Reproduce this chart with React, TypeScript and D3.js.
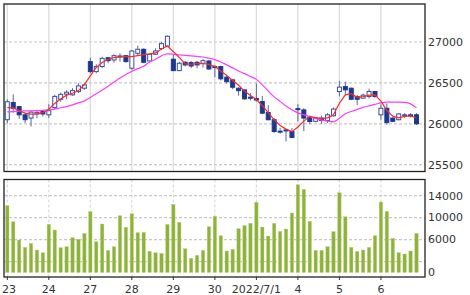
import React from "react";
import * as d3 from "d3";

const dayLabels = ["23", "24", "27", "28", "29", "30", "2022/7/1", "4", "5", "6"];
const barsPerDay = 7;

const openV = [26050,26260,26210,26110,26070,26120,26150,26110,26200,26300,26362,26354,26394,26435,26760,26638,26700,26808,26780,26820,26833,26680,26862,26911,26768,26850,26920,26950,26790,26650,26752,26748,26752,26740,26768,26700,26700,26570,26537,26435,26415,26325,26310,26272,26138,26050,25910,25925,25906,26185,26170,26082,26030,26070,26040,26098,26395,26455,26435,26333,26313,26333,26395,26110,26190,26070,26050,26100,26110,26110];
const highV = [26300,26360,26220,26130,26160,26170,26170,26240,26355,26380,26410,26435,26496,26496,26808,26728,26820,26820,26850,26862,26841,26902,26955,26923,26862,26923,27000,27080,26845,26760,26768,26768,26768,26790,26780,26720,26710,26600,26550,26445,26415,26375,26496,26340,26228,26070,25950,25930,25947,26240,26190,26100,26080,26100,26130,26200,26525,26515,26445,26350,26370,26430,26400,26240,26250,26080,26130,26130,26130,26130];
const lowV = [26010,26135,26060,26010,25967,26070,26090,26070,26180,26270,26300,26341,26374,26415,26618,26618,26680,26740,26748,26760,26748,26658,26841,26740,26760,26841,26900,26950,26645,26645,26700,26680,26680,26687,26660,26570,26530,26490,26423,26345,26295,26285,26272,26118,26040,25887,25880,25785,25825,26028,25910,26000,26020,26000,26010,26090,26335,26350,26290,26230,26310,26310,26320,26050,25990,26020,26040,26070,26080,25985];
const closeV = [26270,26190,26110,26050,26143,26140,26120,26160,26335,26360,26386,26406,26463,26476,26638,26700,26800,26772,26833,26830,26760,26890,26911,26752,26850,26890,26980,27070,26650,26740,26720,26707,26720,26772,26670,26690,26550,26515,26447,26405,26305,26320,26290,26130,26050,25906,25905,25920,25833,26180,26070,26028,26068,26040,26110,26180,26448,26415,26300,26300,26350,26395,26333,26190,26015,26030,26120,26110,26100,26000];
const volumeV = [12180,9260,5920,4590,5320,4100,3610,8780,7750,4530,4710,6350,6050,7140,11080,5620,8840,4040,4710,10350,8240,10720,7260,7320,3860,3610,3490,8780,12430,9150,4340,2590,3130,4040,8350,10240,6710,3920,4230,7980,8530,8970,12800,8290,6650,8970,7510,7930,10850,16000,15160,9330,4040,4040,4710,7440,14550,10170,4590,3860,4100,4590,6710,12850,11150,6230,3610,3370,3920,7140];
const maShort = [26198,26194,26159,26130,26118,26122,26138,26179,26249,26302,26350,26373,26406,26478,26585,26688,26749,26789,26810,26818,26821,26821,26833,26846,26854,26866,26915,26951,26882,26811,26732,26728,26735,26737,26726,26700,26646,26590,26530,26471,26400,26345,26296,26222,26137,26049,25978,25935,25904,25961,26033,26089,26076,26063,26073,26110,26251,26354,26368,26324,26332,26350,26354,26278,26163,26093,26073,26090,26096,26071];
const maLong = [26146,26150,26155,26159,26159,26161,26165,26170,26180,26196,26210,26232,26255,26280,26322,26366,26412,26460,26510,26560,26602,26643,26674,26704,26756,26790,26830,26856,26851,26843,26837,26830,26824,26817,26801,26785,26756,26720,26684,26646,26613,26578,26543,26476,26401,26329,26274,26218,26171,26133,26110,26088,26063,26045,26034,26024,26067,26122,26151,26177,26201,26220,26237,26256,26265,26265,26265,26261,26244,26195];
const priceTicks = [25500, 26000, 26500, 27000];
const volGrid = [2000, 6000, 10000, 14000];
const volLabels = [0, 6000, 10000, 14000];

const W = 470, H = 295;
const L = 4, R = 425;
const mTop = 4, mBot = 171.5;
const vTop = 179.5, vBot = 277;

export default function App() {
  const n = openV.length;
  const x = d3.scaleLinear().domain([0, n - 1]).range([7.3, 416.5]);
  const y = d3.scaleLinear().domain([25500, 27000]).range([164.7, 42]);
  const yv = d3.scaleLinear().domain([0, 14000]).range([272.5, 195.7]);
  const idx = d3.range(n);
  const lineS = d3.line<number>().x((i) => x(i)).y((i) => y(maShort[i]));
  const lineL = d3.line<number>().x((i) => x(i)).y((i) => y(maLong[i])).curve(d3.curveMonotoneX);
  const tickIdx = dayLabels.map((_, d) => d * barsPerDay);
  const font = "'DejaVu Sans', Verdana, sans-serif";
  const cw = 4;
  return (
    <svg width={W} height={H} style={{ position: "absolute", left: 0, top: 0, background: "#fff" }}>
      <rect x={0} y={0} width={W} height={H} fill="#fff" />
      {/* vertical grid */}
      {tickIdx.map((i) => (
        <g key={"vg" + i}>
          <line x1={x(i)} x2={x(i)} y1={mTop} y2={mBot} stroke="#dcdcdc" strokeWidth={1.3} />
          <line x1={x(i)} x2={x(i)} y1={vTop} y2={vBot} stroke="#d8d8d8" strokeWidth={1.1} strokeDasharray="3,2" />
          <line x1={x(i)} x2={x(i)} y1={vBot} y2={vBot + 3} stroke="#333" strokeWidth={1} />
        </g>
      ))}
      {/* horizontal grid */}
      {priceTicks.map((p) => (
        <g key={"pg" + p}>
          <line x1={L} x2={R} y1={y(p)} y2={y(p)} stroke="#c8c8c8" strokeWidth={1.2} strokeDasharray="3,2" />
          <text x={428} y={y(p)} dy="0.35em" fontFamily={font} fontSize={11} fill="#333">{p}</text>
        </g>
      ))}
      {volGrid.map((v) => (
        <line key={"vgh" + v} x1={L} x2={R} y1={yv(v)} y2={yv(v)} stroke="#c8c8c8" strokeWidth={1.2} strokeDasharray="3,2" />
      ))}
      {volLabels.map((v) => (
        <text key={"vl" + v} x={428} y={yv(v)} dy="0.35em" fontFamily={font} fontSize={11} fill="#333">{v}</text>
      ))}
      {/* volume bars */}
      {idx.map((i) => (
        <rect key={"vb" + i} x={x(i) - 1.7} y={yv(volumeV[i])} width={3.4} height={yv(0) - yv(volumeV[i])} fill="#8db33b" stroke="#b9d27c" strokeWidth={0.4} />
      ))}
      {/* candles */}
      {idx.map((i) => {
        const up = closeV[i] >= openV[i];
        const top = y(Math.max(openV[i], closeV[i]));
        const bot = y(Math.min(openV[i], closeV[i]));
        const h = Math.max(bot - top, 1);
        return (
          <g key={"c" + i}>
            <line x1={x(i)} x2={x(i)} y1={y(highV[i])} y2={y(lowV[i])} stroke="#5a68a8" strokeWidth={1} />
            <rect x={x(i) - cw / 2} y={top} width={cw} height={h} fill={up ? "#fff" : "#1b3a8e"} stroke={up ? "#3b4f9e" : "#1b3a8e"} strokeWidth={1} />
          </g>
        );
      })}
      <path d={lineL(idx) || ""} fill="none" stroke="#ff3cff" strokeWidth={1.2} />
      <path d={lineS(idx) || ""} fill="none" stroke="#ff2a2a" strokeWidth={1.2} />
      {/* frames */}
      <rect x={L} y={mTop} width={R - L} height={mBot - mTop} fill="none" stroke="#222" strokeWidth={1.3} />
      <rect x={L} y={vTop} width={R - L} height={vBot - vTop} fill="none" stroke="#222" strokeWidth={1.3} />
      {/* x labels */}
      {tickIdx.map((i, d) => {
        const tx = Math.max(x(i), 9);
        return (
          <text key={"xl" + i} x={tx} y={293} textAnchor="middle" fontFamily={font} fontSize={11} fill="#333">{dayLabels[d]}</text>
        );
      })}
    </svg>
  );
}
